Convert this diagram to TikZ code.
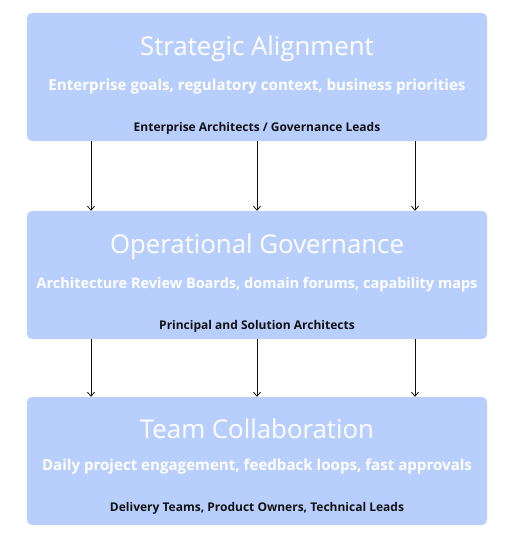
\documentclass[tikz,border=0pt]{standalone}
\usepackage{fontspec}
\setmainfont{Open Sans}
\usetikzlibrary{arrows.meta,positioning}
\definecolor{Tier}{HTML}{B8CFFD}
\definecolor{Ink}{HTML}{111111}
\tikzset{
  tier/.style={rectangle,rounded corners=5pt,fill=Tier,draw=none,minimum width=460pt,minimum height=128pt,inner sep=0pt},
  ttl/.style={font=\fontsize{25.8}{30}\selectfont,text=white,inner sep=0pt},
  sub/.style={font=\fontsize{15.1}{18}\selectfont\bfseries,text=white,inner sep=0pt},
  who/.style={font=\fontsize{12}{14}\selectfont\bfseries,text=Ink,inner sep=0pt},
  flow/.style={draw=Ink,line width=0.8pt,-{Straight Barb[length=4pt,width=7pt]}},
}
\begin{document}
\begin{tikzpicture}[x=1pt,y=-1pt]
\useasboundingbox (0,0) rectangle (520,540);
% Three tiers, top to bottom.
\node[tier] (strat) at (257,77) {};
\node[tier] (oper) at (257,275) {};
\node[tier] (team) at (257,461) {};
\node[ttl] (t1) at (257,49) {Strategic Alignment};
\node[sub] (s1) at (257,87) {Enterprise goals, regulatory context, business priorities};
\node[who] (w1) at (257,128) {Enterprise Architects / Governance Leads};
\node[ttl] (t2) at (257,247) {Operational Governance};
% Longest line, set a little smaller to fit the tier.
\node[sub,font=\fontsize{14.5}{17}\selectfont\bfseries] (s2) at (257,285) {Architecture Review Boards, domain forums, capability maps};
\node[who] (w2) at (257,326) {Principal and Solution Architects};
\node[ttl] (t3) at (257,429) {Team Collaboration};
\node[sub] (s3) at (257,467) {Daily project engagement, feedback loops, fast approvals};
\node[who] (w3) at (257,508) {Delivery Teams, Product Owners, Technical Leads};
% Three parallel links between tiers.
\foreach \dx in {-166,0,158}{
  \draw[flow] ([xshift=\dx pt]strat.south) -- ([xshift=\dx pt]oper.north);
  \draw[flow] ([xshift=\dx pt]oper.south) -- ([xshift=\dx pt]team.north);
}
\end{tikzpicture}
\end{document}
